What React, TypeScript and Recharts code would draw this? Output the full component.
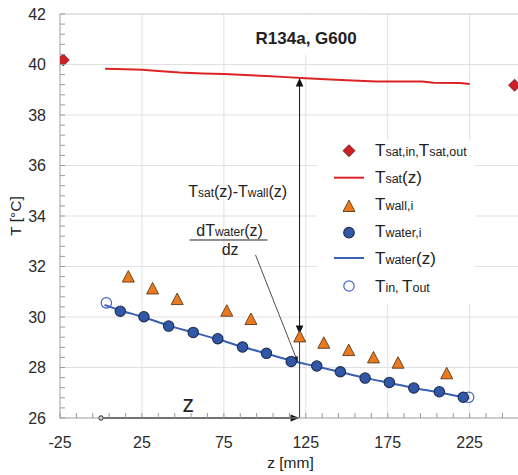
import React from 'react';
import { ComposedChart, Line, Scatter, XAxis, YAxis, ReferenceLine, ReferenceDot, Legend } from 'recharts';

const FONT = '"Liberation Sans", Arial, Helvetica, sans-serif';

// ---- tick values ----
const xMajorTicks = [-25, 25, 75, 125, 175, 225];
const xTicks = [-25, -15, -5, 5, 15, 25, 35, 45, 55, 65, 75, 85, 95, 105, 115, 125, 135, 145, 155, 165, 175, 185, 195, 205, 215, 225, 235, 245, 255];
const yMajorTicks = [26, 28, 30, 32, 34, 36, 38, 40, 42];
const yTicks = [26, 26.4, 26.8, 27.2, 27.6, 28, 28.4, 28.8, 29.2, 29.6, 30, 30.4, 30.8, 31.2, 31.6, 32, 32.4, 32.8, 33.2, 33.6, 34, 34.4, 34.8, 35.2, 35.6, 36, 36.4, 36.8, 37.2, 37.6, 38, 38.4, 38.8, 39.2, 39.6, 40, 40.4, 40.8, 41.2, 41.6, 42];
const xGrid = [25, 75, 125, 175, 225];
const yGrid = [28, 30, 32, 34, 36, 38, 40, 42];

// ---- series ----
const tsatInOut = [
  { z: -23, T: 40.18 },
  { z: 252.4, T: 39.18 },
];
const tsatLine = [
  { z: 2.5, T: 39.83 }, { z: 15, T: 39.81 }, { z: 25, T: 39.79 }, { z: 37, T: 39.73 },
  { z: 48, T: 39.68 }, { z: 62, T: 39.64 }, { z: 75, T: 39.62 }, { z: 88, T: 39.58 },
  { z: 101, T: 39.54 }, { z: 113, T: 39.5 }, { z: 125, T: 39.46 }, { z: 137, T: 39.42 },
  { z: 150, T: 39.38 }, { z: 168, T: 39.33 }, { z: 196, T: 39.33 }, { z: 203, T: 39.28 },
  { z: 219, T: 39.27 }, { z: 225, T: 39.23 },
];
const twall = [
  { z: 16.7, T: 31.6 }, { z: 31.5, T: 31.13 }, { z: 46.5, T: 30.71 }, { z: 76.8, T: 30.25 },
  { z: 91.5, T: 29.92 }, { z: 121.3, T: 29.23 }, { z: 136.0, T: 28.98 }, { z: 151.2, T: 28.69 },
  { z: 166.3, T: 28.4 }, { z: 181.3, T: 28.19 }, { z: 211.0, T: 27.77 },
];
const twater = [
  { z: 11.8, T: 30.23 }, { z: 26.2, T: 30.01 }, { z: 41.3, T: 29.64 }, { z: 56.3, T: 29.39 },
  { z: 71.3, T: 29.14 }, { z: 86.4, T: 28.81 }, { z: 101.0, T: 28.56 }, { z: 116.1, T: 28.24 },
  { z: 131.7, T: 28.06 }, { z: 146.1, T: 27.83 }, { z: 161.2, T: 27.58 }, { z: 176.0, T: 27.41 },
  { z: 190.9, T: 27.19 }, { z: 206.5, T: 27.04 }, { z: 221.1, T: 26.82 },
];
const twaterLine = [
  { z: 2.2, T: 30.48 }, { z: 11.8, T: 30.26 }, { z: 26.2, T: 29.99 }, { z: 41.3, T: 29.66 },
  { z: 56.3, T: 29.39 }, { z: 71.3, T: 29.12 }, { z: 86.4, T: 28.82 }, { z: 101.0, T: 28.55 },
  { z: 116.1, T: 28.27 }, { z: 131.7, T: 28.04 }, { z: 146.1, T: 27.82 }, { z: 161.2, T: 27.59 },
  { z: 176.0, T: 27.39 }, { z: 190.9, T: 27.19 }, { z: 206.5, T: 27.01 }, { z: 224.8, T: 26.77 },
];
const tInOut = [
  { z: 3.3, T: 30.56 },
  { z: 224.4, T: 26.82 },
];

const RED = '#dc2327';
const BLUE_LINE = '#3a5fb3';
const BLUE_FILL = '#3257a6';
const BLUE_STROKE = '#1d2d55';
const ORANGE = '#ea7a20';
const ORANGE_STROKE = '#5b3a1c';
const DIAMOND_FILL = '#d02027';
const DIAMOND_STROKE = '#5a1414';
const OPEN_BLUE = '#4565c2';

const isIn = (arr: number[], v: number) => arr.some((m) => Math.abs(m - v) < 1e-6);

const XTick = (props: any) => {
  const { x, y, payload } = props;
  const v = payload.value;
  return (
    <g>
      <line x1={x} y1={y} x2={x} y2={y - 5} stroke="#9a9a9a" strokeWidth={1} />
      {isIn(xMajorTicks, v) && (
        <text x={x} y={y + 30} textAnchor="middle" fontSize={16} fill="#2b2b2b" fontFamily={FONT}>
          {v}
        </text>
      )}
    </g>
  );
};

const YTick = (props: any) => {
  const { x, y, payload } = props;
  const v = payload.value;
  return (
    <g>
      <line x1={x} y1={y} x2={x + 5} y2={y} stroke="#9a9a9a" strokeWidth={1} />
      {isIn(yMajorTicks, v) && (
        <text x={x - 14} y={y + 5.8} textAnchor="end" fontSize={16} fill="#2b2b2b" fontFamily={FONT}>
          {Math.round(v)}
        </text>
      )}
    </g>
  );
};

const Diamond = (p: any) => {
  const { cx, cy } = p;
  const h = 6;
  return <path d={`M${cx},${cy - h}L${cx + h},${cy}L${cx},${cy + h}L${cx - h},${cy}Z`} fill={DIAMOND_FILL} stroke={DIAMOND_STROKE} strokeWidth={0.8} />;
};
const Triangle = (p: any) => {
  const { cx, cy } = p;
  return <path d={`M${cx},${cy - 6}L${cx + 6},${cy + 5.5}L${cx - 6},${cy + 5.5}Z`} fill={ORANGE} stroke={ORANGE_STROKE} strokeWidth={0.9} />;
};
const FilledCircle = (p: any) => <circle cx={p.cx} cy={p.cy} r={5.2} fill={BLUE_FILL} stroke={BLUE_STROKE} strokeWidth={1.1} />;
const OpenCircle = (p: any) => <circle cx={p.cx} cy={p.cy} r={5.2} fill="none" stroke={OPEN_BLUE} strokeWidth={1.2} />;

function makeArrow(o: { head1?: boolean; head2?: boolean; sw: number; L: number; W: number; color: string; dot?: boolean }) {
  return (p: any) => {
    const { x1, y1, x2, y2 } = p;
    const dx = x2 - x1;
    const dy = y2 - y1;
    const len = Math.hypot(dx, dy) || 1;
    const ux = dx / len;
    const uy = dy / len;
    const head = (tx: number, ty: number, sx: number, sy: number) => {
      const bx = tx - sx * o.L;
      const by = ty - sy * o.L;
      return `${tx},${ty} ${bx - sy * o.W},${by + sx * o.W} ${bx + sy * o.W},${by - sx * o.W}`;
    };
    const ax = o.head1 ? x1 + ux * o.L * 0.7 : x1;
    const ay = o.head1 ? y1 + uy * o.L * 0.7 : y1;
    const bx = o.head2 ? x2 - ux * o.L * 0.7 : x2;
    const by = o.head2 ? y2 - uy * o.L * 0.7 : y2;
    return (
      <g>
        <line x1={ax} y1={ay} x2={bx} y2={by} stroke={o.color} strokeWidth={o.sw} />
        {o.head1 && <polygon points={head(x1, y1, -ux, -uy)} fill={o.color} />}
        {o.head2 && <polygon points={head(x2, y2, ux, uy)} fill={o.color} />}
        {o.dot && <circle cx={x1} cy={y1} r={2.2} fill="#fff" stroke={o.color} strokeWidth={1} />}
      </g>
    );
  };
}

const TitleShape = (p: any) => (
  <g>
    <rect x={p.cx - 65} y={p.cy - 29.5} width={130} height={40} fill="#fff" />
    <text x={p.cx} y={p.cy} textAnchor="middle" fontSize={17} fontWeight="bold" fill="#222" fontFamily={FONT}>
      R134a, G600
    </text>
  </g>
);

const DiffText = (p: any) => (
  <text x={p.cx} y={p.cy} textAnchor="middle" fontSize={16} fill="#222" fontFamily={FONT}>
    <tspan>T</tspan>
    <tspan fontSize={12}>sat</tspan>
    <tspan>(z)-T</tspan>
    <tspan fontSize={12}>wall</tspan>
    <tspan>(z)</tspan>
  </text>
);
const DerivNum = (p: any) => (
  <text x={p.cx} y={p.cy} textAnchor="middle" fontSize={16} fill="#222" fontFamily={FONT}>
    <tspan>dT</tspan>
    <tspan fontSize={12}>water</tspan>
    <tspan>(z)</tspan>
  </text>
);
const DerivDen = (p: any) => (
  <text x={p.cx} y={p.cy} textAnchor="middle" fontSize={16} fill="#222" fontFamily={FONT}>
    dz
  </text>
);
const BigZ = (p: any) => (
  <text x={p.cx} y={p.cy} textAnchor="middle" fontSize={23} fill="#222" fontFamily={FONT}>
    z
  </text>
);
const FracLine = (p: any) => <line x1={p.x1} y1={p.y1} x2={p.x2} y2={p.y2} stroke="#222" strokeWidth={1} />;

const LegendContent = () => {
  const t = (main: string, sub: string) => [
    <tspan key={main + sub + 'a'}>{main}</tspan>,
    <tspan key={main + sub + 'b'} fontSize={12.5}>{sub}</tspan>,
  ];
  const tx = 58;
  return (
    <svg width={158} height={164} style={{ display: 'block', background: '#fff' }}>
      <g fontFamily={FONT} fill="#222" fontSize={17}>
        <path d="M32,4.7L38,10.7L32,16.7L26,10.7Z" fill={DIAMOND_FILL} stroke={DIAMOND_STROKE} strokeWidth={0.8} />
        <text x={tx} y={16}>{t('T', 'sat,in,')}{t('T', 'sat,out')}</text>

        <line x1={17} y1={37.7} x2={47} y2={37.7} stroke={RED} strokeWidth={2} />
        <text x={tx} y={43.3}>{t('T', 'sat')}<tspan>(z)</tspan></text>

        <path d="M32,60L38,71.5L26,71.5Z" fill={ORANGE} stroke={ORANGE_STROKE} strokeWidth={0.9} />
        <text x={tx} y={70}>{t('T', 'wall,i')}</text>

        <circle cx={32} cy={92.7} r={5.3} fill={BLUE_FILL} stroke={BLUE_STROKE} strokeWidth={1.1} />
        <text x={tx} y={97.3}>{t('T', 'water,i')}</text>

        <line x1={17} y1={118} x2={47} y2={118} stroke={BLUE_LINE} strokeWidth={2} />
        <text x={tx} y={124}>{t('T', 'water')}<tspan>(z)</tspan></text>

        <circle cx={32} cy={146} r={5.2} fill="none" stroke={OPEN_BLUE} strokeWidth={1.2} />
        <text x={tx} y={151.7}>{t('T', 'in, ')}{t('T', 'out')}</text>
      </g>
    </svg>
  );
};

export default function App() {
  return (
    <div style={{ position: 'fixed', left: 0, top: 0, width: 518, height: 475, overflow: 'hidden', background: '#fff' }}>
      <ComposedChart width={540} height={475} margin={{ top: 14, right: 13, bottom: 17, left: 0 }}>
        <XAxis
          type="number"
          dataKey="z"
          domain={[-25, 260]}
          ticks={xTicks}
          interval={0}
          allowDataOverflow
          height={40}
          tickSize={0}
          tickMargin={0}
          tickLine={false}
          tick={<XTick />}
          axisLine={{ stroke: '#9a9a9a', strokeWidth: 1 }}
          label={(lp: any) => {
            const vb = lp.viewBox || {};
            return (
              <text x={vb.x + vb.width / 2 - 3} y={468} textAnchor="middle" fontSize={15.5} fill="#222" fontFamily={FONT}>
                z [mm]
              </text>
            );
          }}
        />
        <YAxis
          type="number"
          dataKey="T"
          domain={[26, 42]}
          ticks={yTicks}
          interval={0}
          allowDataOverflow
          width={60}
          tickSize={0}
          tickMargin={0}
          tickLine={false}
          tick={<YTick />}
          axisLine={{ stroke: '#9a9a9a', strokeWidth: 1 }}
          label={(lp: any) => {
            const vb = lp.viewBox || {};
            const cy = vb.y + vb.height / 2;
            return (
              <text x={21} y={cy} transform={`rotate(-90, 21, ${cy})`} textAnchor="middle" fontSize={15.5} fill="#222" fontFamily={FONT}>
                T [°C]
              </text>
            );
          }}
        />

        {xGrid.map((v) => (
          <ReferenceLine key={'gx' + v} x={v} stroke="#e1e1e1" strokeWidth={1} />
        ))}
        {yGrid.map((v) => (
          <ReferenceLine key={'gy' + v} y={v} stroke={v === 42 ? '#c8c8c8' : '#e1e1e1'} strokeWidth={1} />
        ))}

        <ReferenceDot x={125.2} y={40.8} r={0} ifOverflow="visible" shape={TitleShape} />

        <Line data={twaterLine} dataKey="T" name="Twater(z)" type="monotone" stroke={BLUE_LINE} strokeWidth={2} dot={false} activeDot={false} isAnimationActive={false} legendType="line" />
        <Line data={tsatLine} dataKey="T" name="Tsat(z)" type="linear" stroke={RED} strokeWidth={2} dot={false} activeDot={false} isAnimationActive={false} legendType="line" />
        <Scatter data={tInOut} dataKey="T" name="Tin, Tout" shape={OpenCircle} isAnimationActive={false} />
        <Scatter data={twater} dataKey="T" name="Twater,i" shape={FilledCircle} isAnimationActive={false} />

        {/* annotations */}
        <ReferenceLine segment={[{ x: 121.2, y: 26 }, { x: 121.2, y: 29.3 }]} ifOverflow="visible" shape={makeArrow({ sw: 1, L: 0, W: 0, color: '#333' })} />
        <ReferenceLine segment={[{ x: 121.2, y: 29.33 }, { x: 121.2, y: 39.47 }]} ifOverflow="visible" shape={makeArrow({ head1: true, head2: true, sw: 1, L: 8.5, W: 3.8, color: '#111' })} />
        <ReferenceLine segment={[{ x: 94.3, y: 32.46 }, { x: 120.2, y: 28.2 }]} ifOverflow="visible" shape={makeArrow({ head2: true, sw: 0.8, L: 6, W: 2.2, color: '#222' })} />
        <ReferenceLine segment={[{ x: 0, y: 26 }, { x: 121.2, y: 26 }]} ifOverflow="visible" shape={makeArrow({ head2: true, dot: true, sw: 1.6, L: 9, W: 3.6, color: '#111' })} />

        <Scatter data={twall} dataKey="T" name="Twall,i" shape={Triangle} isAnimationActive={false} />
        <Scatter data={tsatInOut} dataKey="T" name="Tsat,in,Tsat,out" shape={Diamond} isAnimationActive={false} />

        <ReferenceDot x={83.4} y={34.76} r={0} ifOverflow="visible" shape={DiffText} />
        <ReferenceDot x={78.5} y={33.21} r={0} ifOverflow="visible" shape={DerivNum} />
        <ReferenceLine segment={[{ x: 54.1, y: 33.05 }, { x: 101.6, y: 33.05 }]} ifOverflow="visible" shape={FracLine} />
        <ReferenceDot x={78.8} y={32.46} r={0} ifOverflow="visible" shape={DerivDen} />
        <ReferenceDot x={53.2} y={26.24} r={0} ifOverflow="visible" shape={BigZ} />

        <Legend
          layout="vertical"
          align="center"
          verticalAlign="middle"
          content={<LegendContent />}
          wrapperStyle={{ position: 'absolute', left: 317, top: 140, width: 158, height: 164, margin: 0, padding: 0 }}
        />
      </ComposedChart>
    </div>
  );
}
